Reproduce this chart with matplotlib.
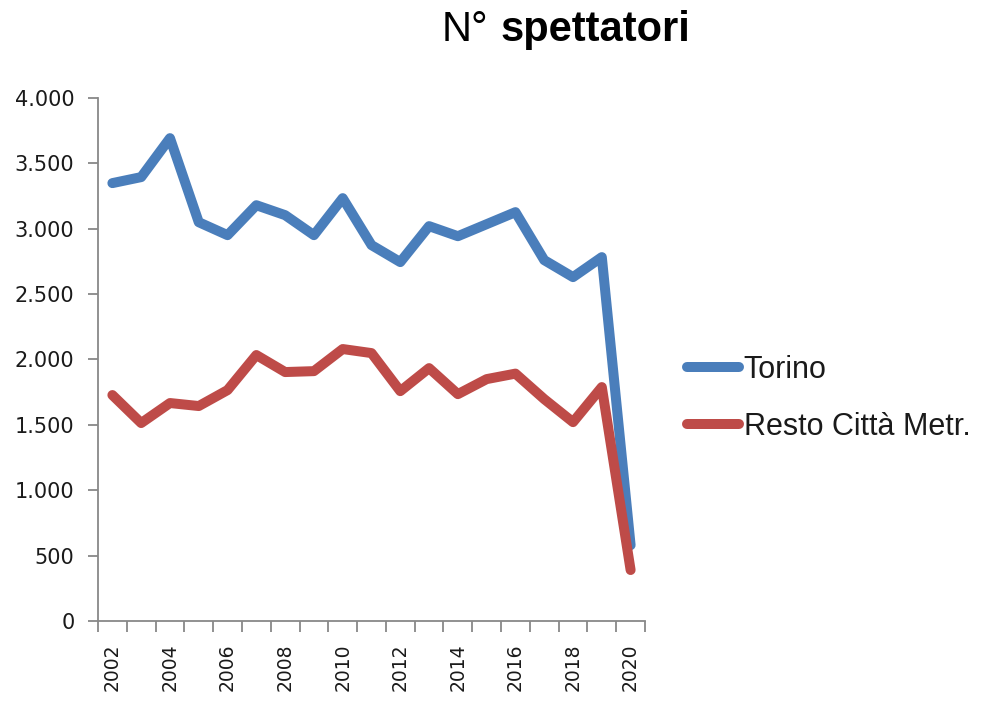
import numpy as np
import matplotlib
matplotlib.use("Agg")
import matplotlib.pyplot as plt
from matplotlib.ticker import FuncFormatter

# dati
anni = list(range(2002, 2021))
torino = [3349, 3395, 3693, 3050, 2951, 3180, 3104, 2951, 3234, 2875,
          2745, 3020, 2943, 3035, 3127, 2760, 2630, 2783, 580]
resto = [1728, 1514, 1667, 1644, 1766, 2034, 1904, 1911, 2080, 2049,
         1758, 1934, 1735, 1850, 1892, 1697, 1521, 1789, 390]
etichette = [str(a) if a % 2 == 0 else "" for a in anni]

plt.rcParams['font.family'] = ['DejaVu Sans']

fig = plt.figure(figsize=(9.84, 7.03), dpi=100)
ax = fig.add_axes([98/984, 1 - 621/703, (645 - 98)/984, (621 - 98)/703])

x = np.arange(len(anni))
ax.plot(x, torino, color='#4A7EBB', lw=7.2, solid_capstyle='round',
        solid_joinstyle='round', label='Torino')
ax.plot(x, resto, color='#BE4B48', lw=7.2, solid_capstyle='round',
        solid_joinstyle='round', label='Resto Città Metr.')

ax.set_xlim(-0.5, len(anni) - 0.5)
ax.set_ylim(0, 4000)

# assi stile excel
for s in ['top', 'right']:
    ax.spines[s].set_visible(False)
for s in ['left', 'bottom']:
    ax.spines[s].set_color('#888888')
    ax.spines[s].set_linewidth(1.3)

ax.set_yticks(np.arange(0, 4001, 500))
ax.yaxis.set_major_formatter(FuncFormatter(lambda v, p: f"{int(v):,}".replace(",", ".")))
ax.tick_params(axis='y', length=7, width=1.3, color='#888888', labelsize=15,
               pad=10, labelcolor='#1a1a1a')

ax.set_xticks(np.arange(-0.5, len(anni), 1))
ax.set_xticklabels([])
ax.tick_params(axis='x', which='major', length=8, width=1.3, color='#888888')
ax.set_xticks(x[::2], minor=True)
ax.set_xticklabels(etichette[::2], minor=True, rotation=90)
ax.tick_params(axis='x', which='minor', length=0, labelsize=13.5, pad=16,
               labelcolor='#1a1a1a')

# legenda
leg = ax.legend(loc='center left', bbox_to_anchor=(1.055, 0.426), frameon=False,
                prop={'family': 'Liberation Sans', 'size': 22},
                handlelength=1.7, handletextpad=0.15, labelspacing=0.88,
                borderaxespad=0)
for t in leg.get_texts():
    t.set_color('#1a1a1a')

# titolo
fig.text(488/984, 0.957, "N°", ha='right', va='center', fontsize=30,
         family='Liberation Sans')
fig.text(500/984, 0.957, "spettatori", ha='left', va='center', fontsize=30,
         fontweight='bold', family='Liberation Sans')

fig.savefig("out.png", dpi=100)
